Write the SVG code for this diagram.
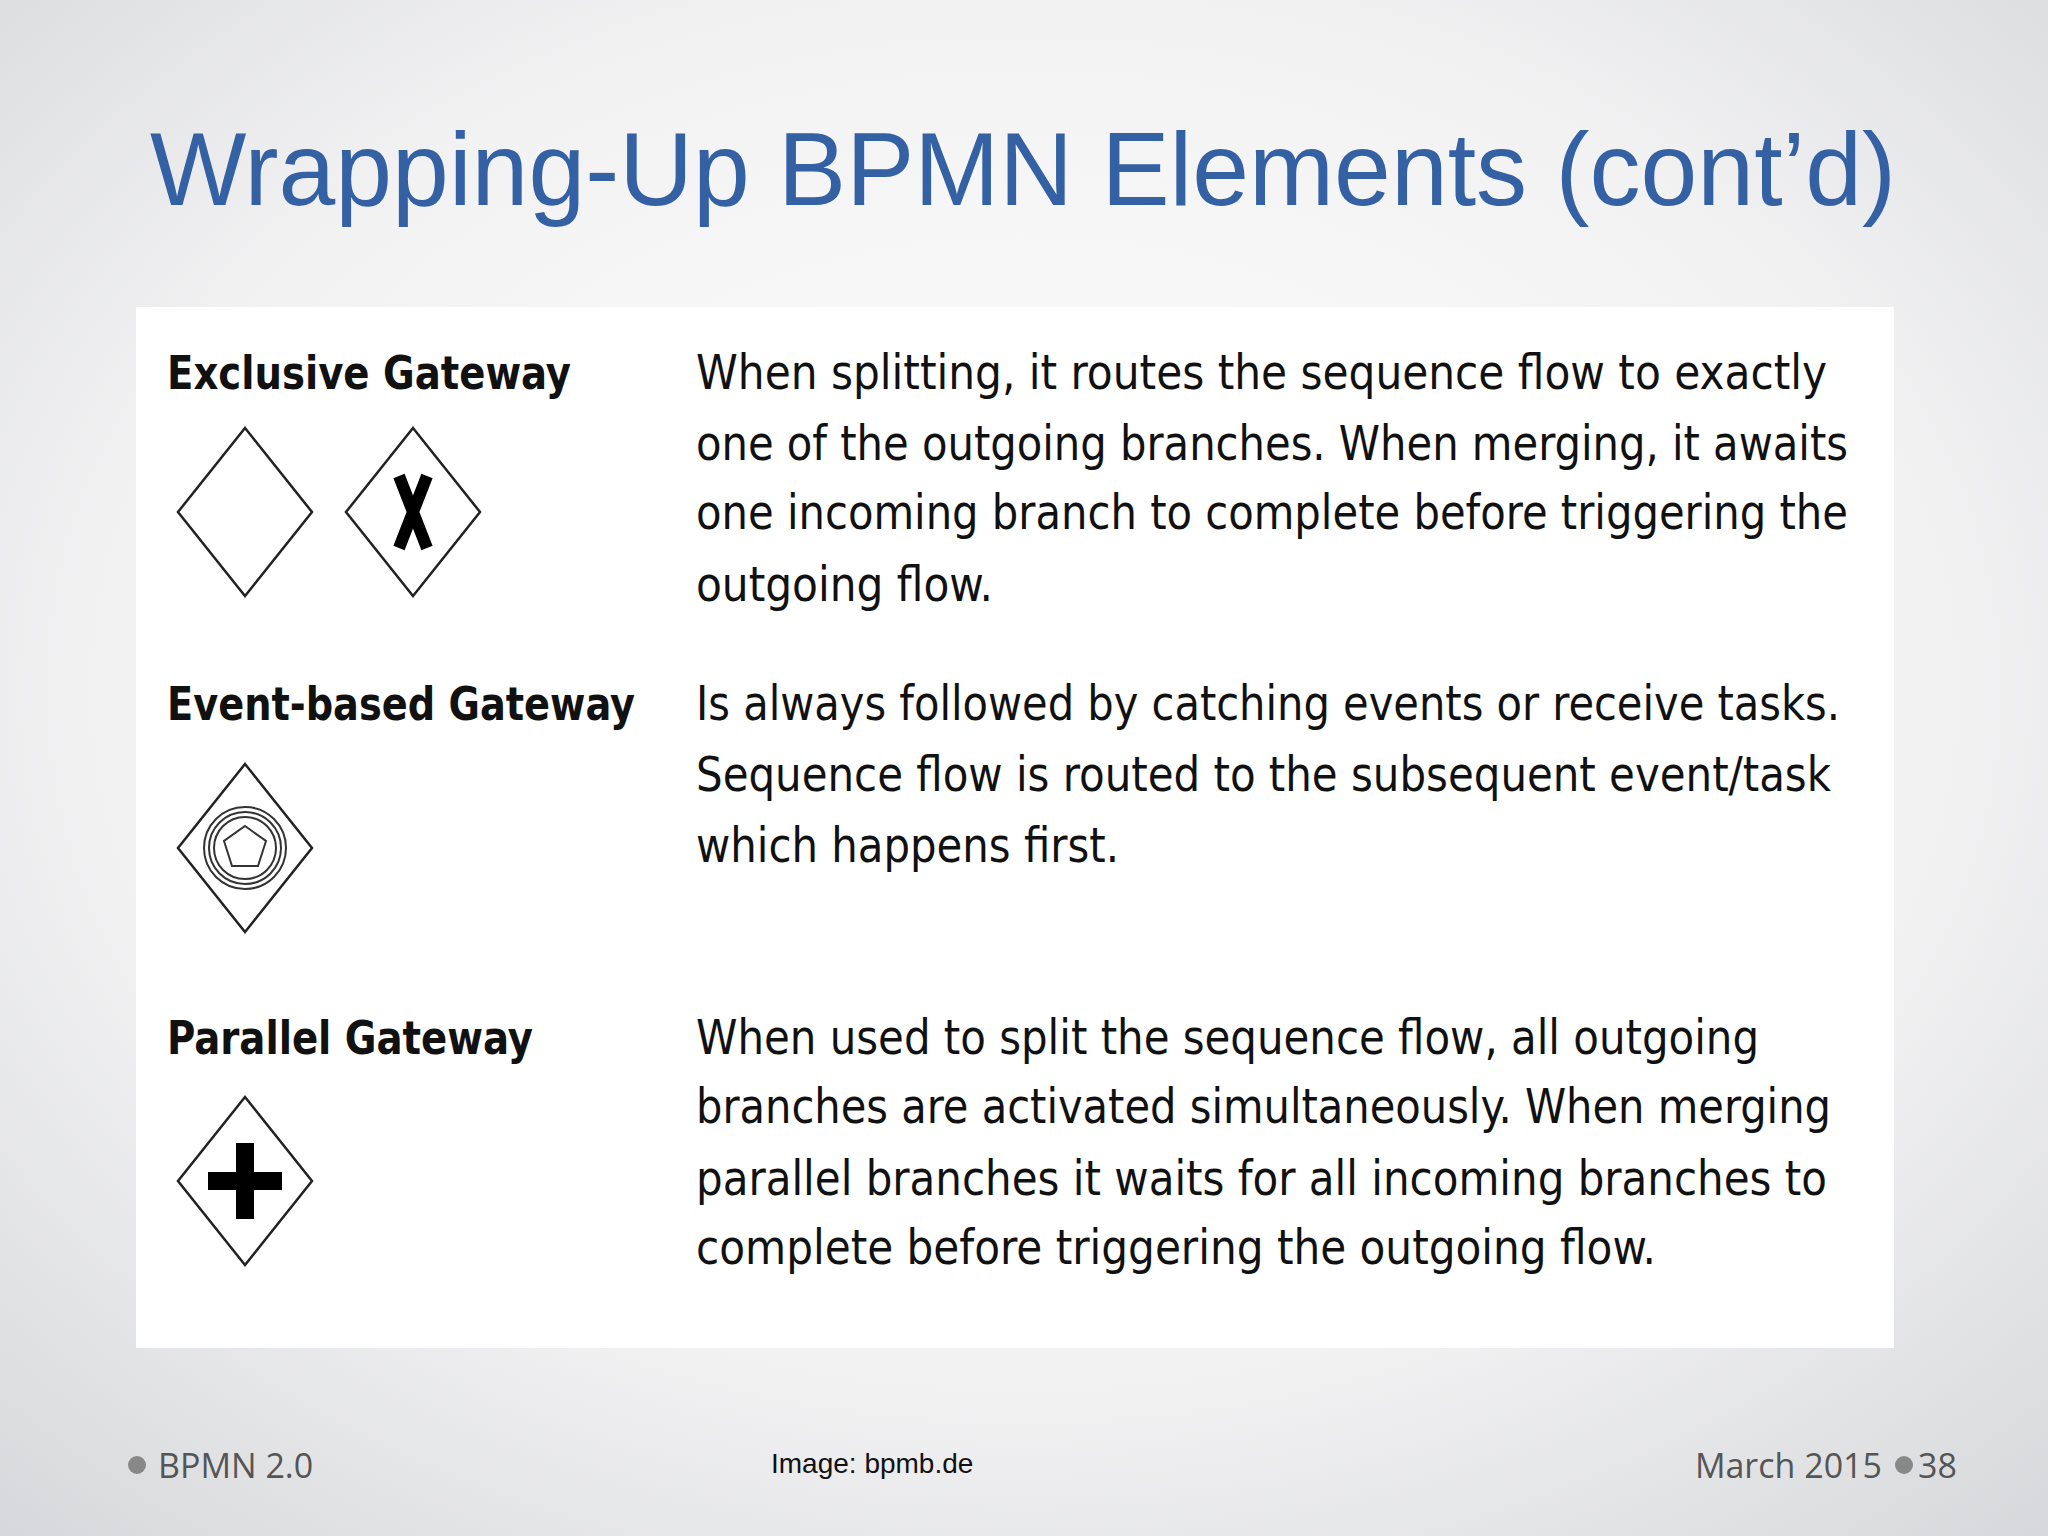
<svg xmlns="http://www.w3.org/2000/svg" width="2048" height="1536" viewBox="0 0 2048 1536">
<defs>
<radialGradient id="bg" cx="50%" cy="45%" r="75%">
<stop offset="0" stop-color="#ffffff"/><stop offset="0.6" stop-color="#f2f2f3"/><stop offset="1" stop-color="#d6d7da"/>
</radialGradient>
<style>
.lbl{font-family:"DejaVu Sans Condensed","DejaVu Sans",sans-serif;font-weight:bold;font-size:46px;fill:#111}
.txt{font-family:"DejaVu Sans Condensed","DejaVu Sans",sans-serif;font-size:48px;fill:#111}
.gw{fill:#fff;stroke:#222;stroke-width:2.5}
.foot{font-family:"Open Sans","DejaVu Sans",sans-serif;font-size:34px;fill:#555}
</style>
</defs>
<rect width="2048" height="1536" fill="url(#bg)"/>
<text x="1023" y="205" text-anchor="middle" font-family="'Liberation Sans',Arial,sans-serif" font-size="104" fill="#3460a4" textLength="1746" lengthAdjust="spacingAndGlyphs">Wrapping-Up BPMN Elements (cont’d)</text>
<rect x="136" y="307" width="1758" height="1041" fill="#fff"/>
<g id="exclusive">
<text class="lbl" x="167" y="389" textLength="404" lengthAdjust="spacingAndGlyphs">Exclusive Gateway</text>
<polygon class="gw" points="245,428 312,512 245,596 178,512"/>
<polygon class="gw" points="413,428 480,512 413,596 346,512"/>
<path d="M399,476 L427,548 M427,476 L399,548" stroke="#000" stroke-width="12" fill="none"/>
<text class="txt" x="696" y="389" textLength="1131" lengthAdjust="spacingAndGlyphs">When splitting, it routes the sequence flow to exactly</text>
<text class="txt" x="696" y="460" textLength="1152" lengthAdjust="spacingAndGlyphs">one of the outgoing branches. When merging, it awaits</text>
<text class="txt" x="696" y="529" textLength="1152" lengthAdjust="spacingAndGlyphs">one incoming branch to complete before triggering the</text>
<text class="txt" x="696" y="601" textLength="297" lengthAdjust="spacingAndGlyphs">outgoing flow.</text>
</g>
<g id="eventbased">
<text class="lbl" x="167" y="720" textLength="468" lengthAdjust="spacingAndGlyphs">Event-based Gateway</text>
<polygon class="gw" points="245,764 312,848 245,932 178,848"/>
<circle cx="245" cy="848" r="41" fill="none" stroke="#333" stroke-width="2"/>
<circle cx="245" cy="848" r="36" fill="none" stroke="#333" stroke-width="2"/>
<circle cx="245" cy="848" r="31" fill="none" stroke="#333" stroke-width="2"/>
<polygon points="245,826 266,841 258,866 232,866 224,841" fill="none" stroke="#333" stroke-width="2"/>
<text class="txt" x="696" y="720" textLength="1144" lengthAdjust="spacingAndGlyphs">Is always followed by catching events or receive tasks.</text>
<text class="txt" x="696" y="791" textLength="1135" lengthAdjust="spacingAndGlyphs">Sequence flow is routed to the subsequent event/task</text>
<text class="txt" x="696" y="862" textLength="423" lengthAdjust="spacingAndGlyphs">which happens first.</text>
</g>
<g id="parallel">
<text class="lbl" x="167" y="1054" textLength="366" lengthAdjust="spacingAndGlyphs">Parallel Gateway</text>
<polygon class="gw" points="245,1097 312,1181 245,1265 178,1181"/>
<path d="M245,1143 V1219 M208,1181 H282" stroke="#000" stroke-width="18" fill="none"/>
<text class="txt" x="696" y="1054" textLength="1063" lengthAdjust="spacingAndGlyphs">When used to split the sequence flow, all outgoing</text>
<text class="txt" x="696" y="1123" textLength="1135" lengthAdjust="spacingAndGlyphs">branches are activated simultaneously. When merging</text>
<text class="txt" x="696" y="1195" textLength="1131" lengthAdjust="spacingAndGlyphs">parallel branches it waits for all incoming branches to</text>
<text class="txt" x="696" y="1264" textLength="960" lengthAdjust="spacingAndGlyphs">complete before triggering the outgoing flow.</text>
</g>
<g id="footer">
<circle cx="137" cy="1465" r="9" fill="#888"/>
<text class="foot" x="158" y="1478">BPMN 2.0</text>
<text x="771" y="1473" font-family="'Liberation Sans',Arial,sans-serif" font-size="28" fill="#111">Image: bpmb.de</text>
<text class="foot" x="1882" y="1478" text-anchor="end">March 2015</text>
<circle cx="1904" cy="1465" r="9" fill="#888"/>
<text class="foot" x="1918" y="1478">38</text>
</g>
</svg>
